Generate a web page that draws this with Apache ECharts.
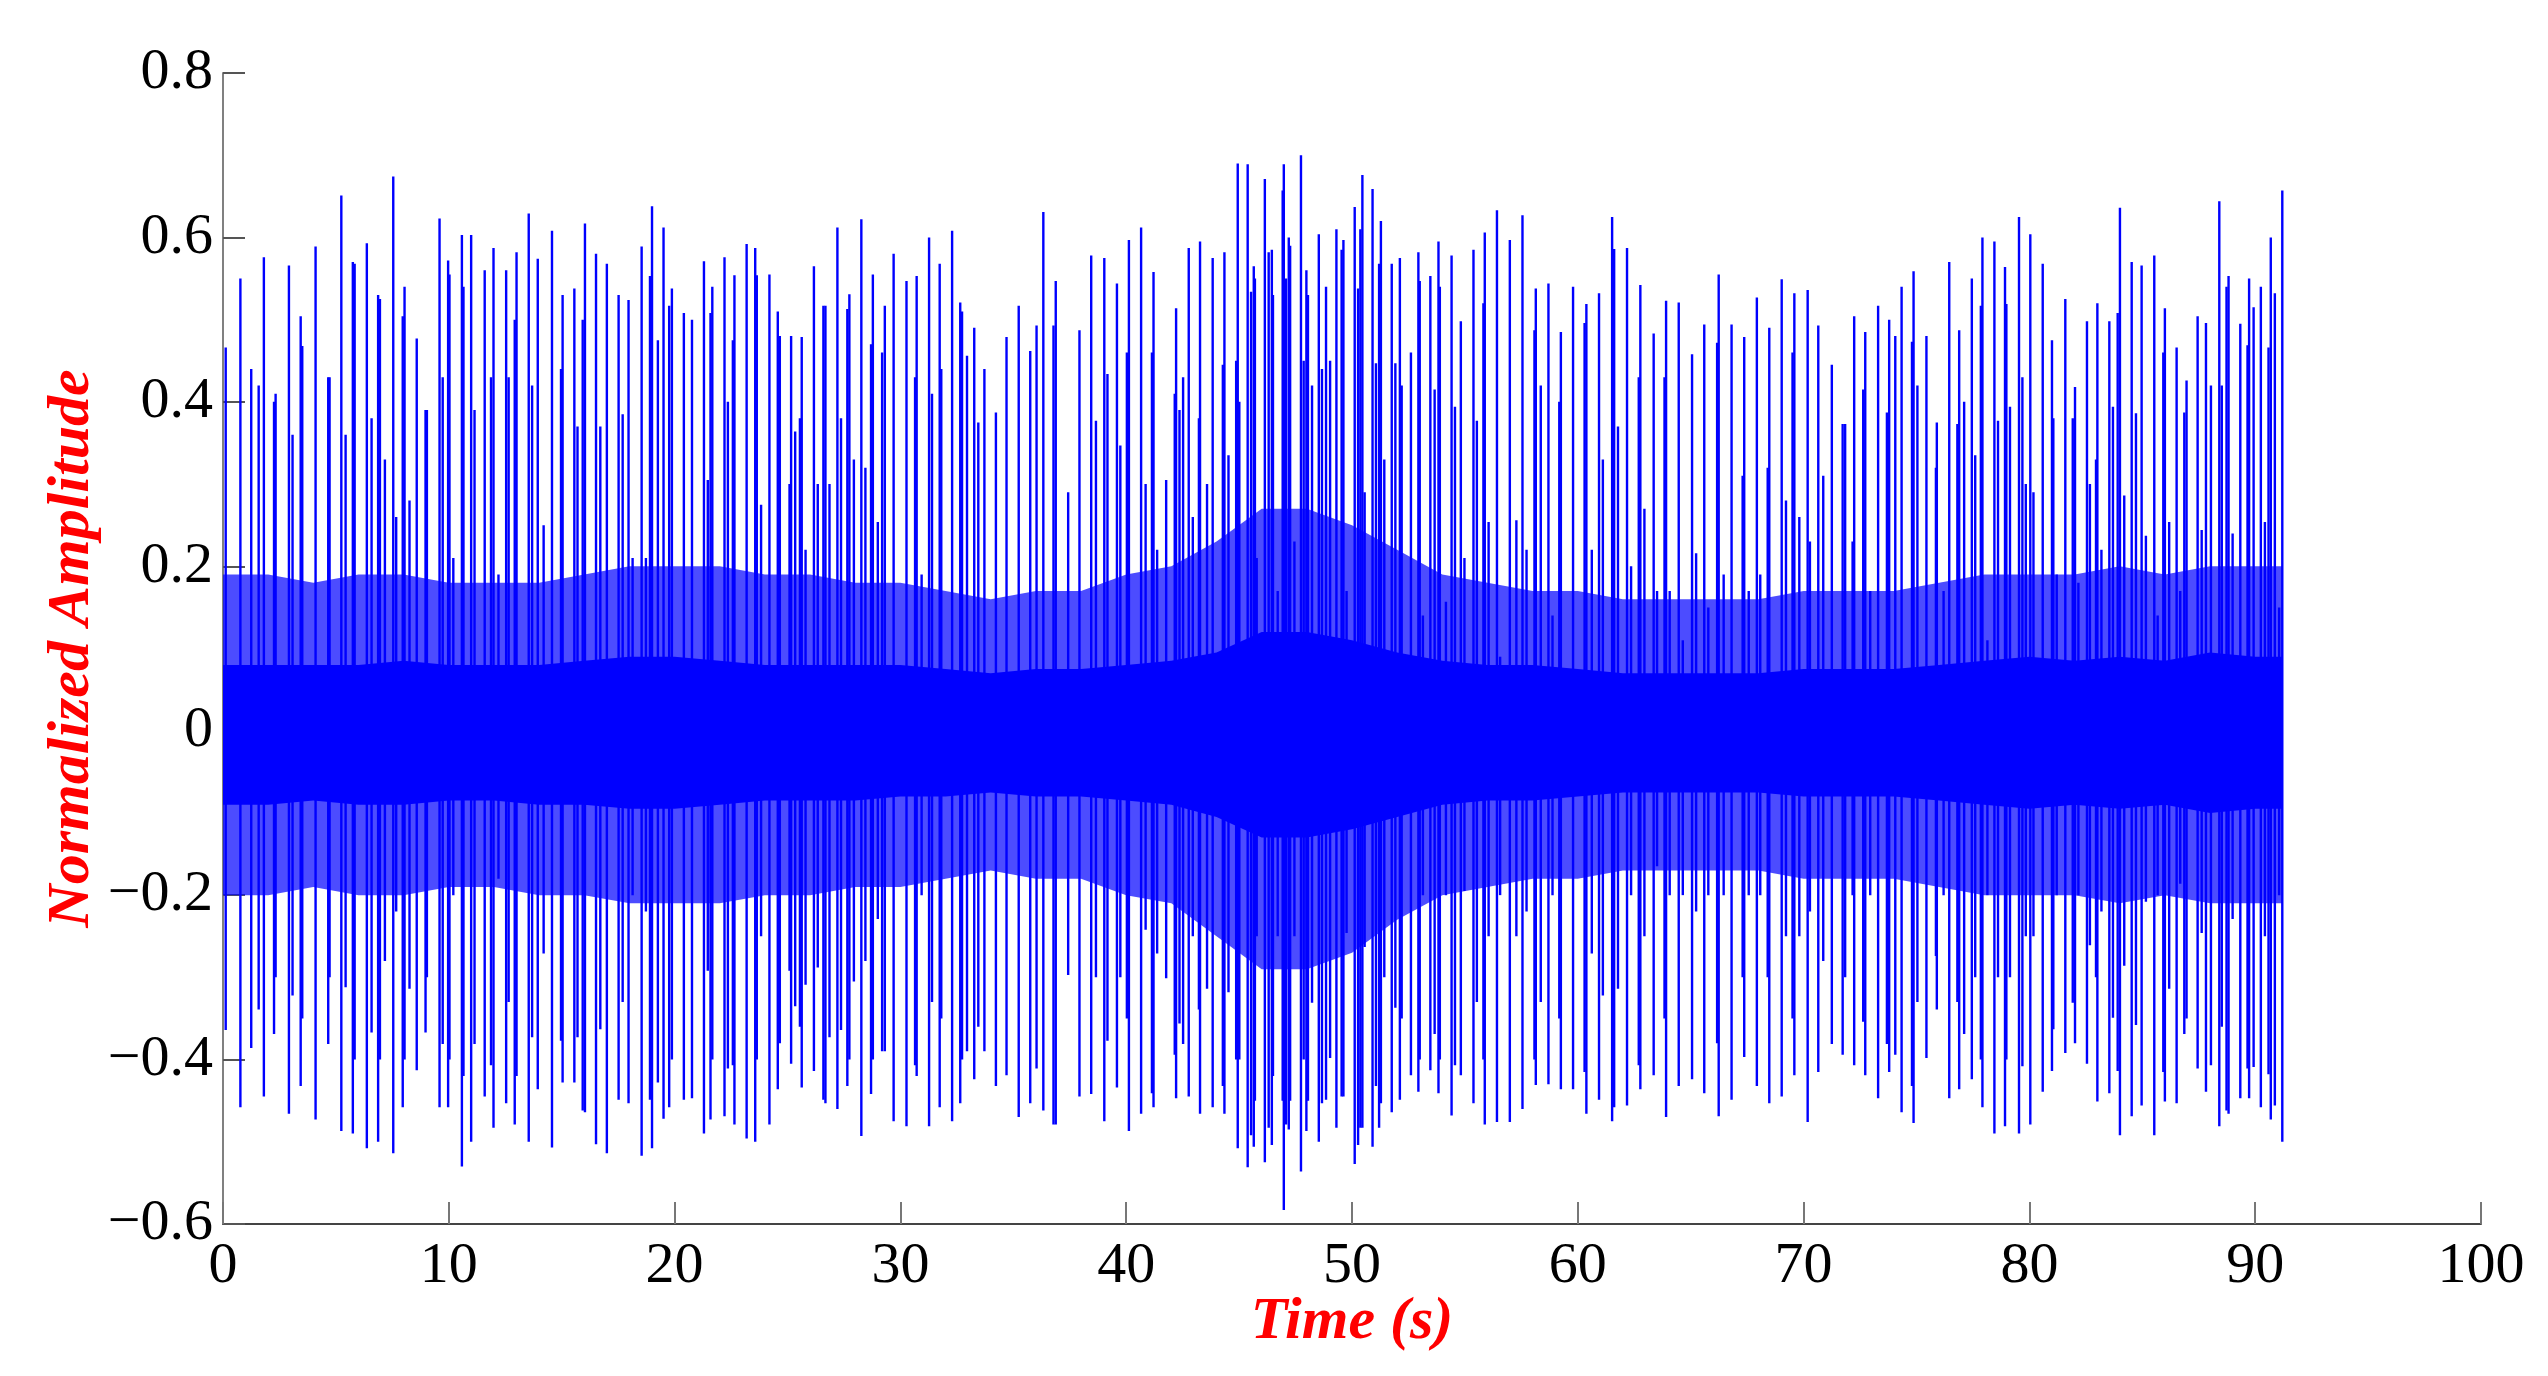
<!DOCTYPE html>
<html>
<head>
    <meta charset="UTF-8">
    <title>Normalized Amplitude vs Time</title>
    <style>
        html, body { margin: 0; padding: 0; background: #fff; }
    </style>
</head>
<body>
<div id="main" style="width: 2548px;height:1376px;"></div>
<script src="https://cdn.jsdelivr.net/npm/echarts@6/dist/echarts.min.js"></script>
<script>
    // impulses: time (s), top value, bottom value
    var spikeT = [
        0.12, 0.77, 1.25, 1.58, 1.81, 2.26, 2.33, 2.92, 3.08, 3.44, 3.51, 4.10, 4.66, 4.72, 5.24, 5.43, 5.75, 5.83,
        6.37, 6.58, 6.87, 6.95, 7.17, 7.54, 7.67, 7.96, 8.04, 8.26, 8.58, 8.97, 9.03, 9.59, 9.73, 9.97,
        10.03, 10.2, 10.58, 10.65, 10.99, 11.14, 11.59, 11.87, 11.98, 12.2, 12.54, 12.65, 12.92, 13.0, 13.54, 13.69,
        13.94, 14.2, 14.57, 14.97, 15.04, 15.56, 15.7, 15.93, 16.03, 16.52, 16.71, 17.0, 17.52, 17.7, 17.96, 18.14,
        18.54, 18.73, 18.91, 19.0, 19.26, 19.51, 19.76, 19.88,
        20.41, 20.77, 21.3, 21.47, 21.59, 21.67, 22.21, 22.36, 22.58, 22.65, 23.19, 23.57, 23.64, 23.83, 24.2,
        24.57, 24.66, 25.09, 25.16, 25.34, 25.55, 25.63, 25.8, 26.17, 26.34, 26.59, 26.68, 26.86, 27.21, 27.37,
        27.65, 27.74, 27.94, 28.27, 28.45, 28.7, 28.78, 29.0, 29.19, 29.31, 29.7, 30.27, 30.65, 30.72, 30.94,
        31.27, 31.4, 31.74, 31.81, 32.29, 32.65, 32.73, 32.95, 33.27, 33.45, 33.72, 34.23, 34.7, 35.24, 35.75,
        36.03, 36.33, 36.78, 36.88, 37.43, 37.93, 38.45, 38.66, 39.03, 39.17, 39.59, 39.74,
        40.03, 40.12, 40.66, 40.86, 41.14, 41.21, 41.37, 41.77, 42.15, 42.21, 42.36, 42.52, 42.77, 42.95, 43.22,
        43.27, 43.58, 43.83, 44.28, 44.35, 44.53, 44.87, 44.94, 45.01, 45.38, 45.53, 45.65, 45.7, 45.78, 46.14,
        46.31, 46.45, 46.5, 46.71, 46.93, 46.98, 47.08, 47.2, 47.26, 47.45, 47.74, 47.86, 47.98, 48.05, 48.23,
        48.53, 48.67, 48.85, 49.03, 49.31, 49.54, 49.62, 49.76, 50.12, 50.27, 50.37, 50.46, 50.56, 50.91, 51.06,
        51.2, 51.28, 51.43, 51.76, 51.92, 52.12, 52.2, 52.61, 52.94, 53.0, 53.14, 53.47, 53.66, 53.83, 53.89,
        54.16, 54.41, 54.56, 54.82, 54.98, 55.38, 55.53, 55.82, 55.88, 56.05, 56.42, 56.56, 56.99, 57.28, 57.55,
        57.73, 58.08, 58.14, 58.36, 58.7, 58.88, 59.18, 59.25, 59.79,
        60.3, 60.38, 60.62, 60.94, 61.11, 61.52, 61.61, 61.78, 62.18, 62.36, 62.7, 62.77, 62.95, 63.36, 63.51,
        63.84, 63.91, 64.07, 64.47, 64.65, 65.06, 65.24, 65.6, 65.78, 66.17, 66.24, 66.46, 66.81, 67.3, 67.37,
        67.57, 67.93, 68.08, 68.41, 68.48, 69.03, 69.22, 69.51, 69.59, 69.81, 70.18, 70.28, 70.65, 70.87, 71.25,
        71.73, 71.84, 72.17, 72.24, 72.64, 72.73, 72.95, 73.3, 73.69, 73.79, 74.06, 74.34, 74.8, 74.87, 75.04,
        75.44, 75.86, 75.9, 76.2, 76.45, 76.81, 76.89, 77.11, 77.45, 77.6, 77.85, 77.92, 78.14, 78.45, 78.61,
        78.92, 78.98, 79.14, 79.54, 79.69, 79.84,
        80.04, 80.18, 80.59, 81.0, 81.06, 81.21, 81.59, 81.92, 82.02, 82.17, 82.55, 82.68, 82.95, 83.01, 83.19,
        83.54, 83.7, 83.91, 84.01, 84.2, 84.53, 84.72, 84.97, 85.16, 85.53, 85.68, 85.93, 86.0, 86.19, 86.52,
        86.68, 86.86, 86.96, 87.45, 87.63, 87.82, 88.04, 88.41, 88.52, 88.73, 88.82, 89.0, 89.34, 89.66, 89.73,
        89.93, 90.25, 90.43, 90.59, 90.69, 90.87, 91.06, 91.2
    ];
    var spikeHi = [
        0.466, 0.55, 0.44, 0.42, 0.576, 0.40, 0.41, 0.566, 0.36, 0.504, 0.468, 0.589, 0.43, 0.43, 0.651, 0.36, 0.57, 0.568,
        0.593, 0.38, 0.53, 0.525, 0.33, 0.674, 0.26, 0.504, 0.54, 0.28, 0.477, 0.39, 0.39, 0.623, 0.43, 0.572,
        0.555, 0.21, 0.603, 0.54, 0.603, 0.39, 0.56, 0.43, 0.587, 0.19, 0.56, 0.43, 0.5, 0.582, 0.629, 0.42,
        0.574, 0.25, 0.608, 0.44, 0.53, 0.538, 0.37, 0.5, 0.617, 0.58, 0.37, 0.568, 0.53, 0.385, 0.524, 0.21,
        0.589, 0.21, 0.553, 0.638, 0.475, 0.612, 0.517, 0.538,
        0.508, 0.50, 0.571, 0.305, 0.508, 0.54, 0.576, 0.40, 0.475, 0.554, 0.592, 0.587, 0.554, 0.275, 0.555,
        0.51, 0.48, 0.30, 0.48, 0.364, 0.38, 0.479, 0.22, 0.565, 0.30, 0.517, 0.517, 0.30, 0.612, 0.38,
        0.513, 0.531, 0.33, 0.622, 0.32, 0.47, 0.555, 0.254, 0.46, 0.517, 0.58, 0.547, 0.43, 0.553, 0.19,
        0.60, 0.41, 0.568, 0.44, 0.608, 0.521, 0.51, 0.456, 0.49, 0.375, 0.44, 0.387, 0.479, 0.517, 0.462,
        0.493, 0.631, 0.493, 0.547, 0.29, 0.487, 0.578, 0.377, 0.575, 0.434, 0.544, 0.347,
        0.46, 0.597, 0.612, 0.30, 0.46, 0.558, 0.22, 0.305, 0.41, 0.514, 0.39, 0.43, 0.587, 0.26, 0.38,
        0.595, 0.30, 0.575, 0.445, 0.582, 0.335, 0.45, 0.69, 0.40, 0.689, 0.534, 0.565, 0.55, 0.21, 0.671,
        0.582, 0.585, 0.53, 0.17, 0.657, 0.689, 0.55, 0.60, 0.59, 0.23, 0.70, 0.45, 0.56, 0.53, 0.42,
        0.604, 0.44, 0.54, 0.45, 0.61, 0.585, 0.597, 0.17, 0.637, 0.538, 0.61, 0.676, 0.29, 0.659, 0.447,
        0.568, 0.62, 0.33, 0.568, 0.447, 0.575, 0.42, 0.46, 0.582, 0.547, 0.14, 0.553, 0.415, 0.595, 0.54,
        0.157, 0.578, 0.394, 0.498, 0.21, 0.585, 0.377, 0.52, 0.606, 0.254, 0.633, 0.09, 0.597, 0.256, 0.627,
        0.22, 0.487, 0.538, 0.42, 0.544, 0.14, 0.40, 0.485, 0.54,
        0.496, 0.519, 0.22, 0.532, 0.33, 0.625, 0.586, 0.37, 0.587, 0.2, 0.43, 0.542, 0.27, 0.483, 0.17,
        0.43, 0.523, 0.17, 0.521, 0.11, 0.458, 0.216, 0.494, 0.15, 0.472, 0.555, 0.19, 0.494, 0.31, 0.479,
        0.17, 0.527, 0.19, 0.32, 0.49, 0.549, 0.28, 0.46, 0.532, 0.26, 0.536, 0.23, 0.493, 0.31, 0.445,
        0.373, 0.373, 0.23, 0.504, 0.415, 0.485, 0.17, 0.517, 0.387, 0.50, 0.48, 0.54, 0.473, 0.559, 0.42,
        0.48, 0.32, 0.375, 0.17, 0.57, 0.373, 0.487, 0.40, 0.55, 0.335, 0.517, 0.60, 0.11, 0.595, 0.377,
        0.564, 0.519, 0.394, 0.625, 0.43, 0.30,
        0.604, 0.29, 0.568, 0.475, 0.38, 0.19, 0.525, 0.38, 0.418, 0.18, 0.498, 0.30, 0.33, 0.52, 0.22,
        0.498, 0.394, 0.508, 0.636, 0.286, 0.57, 0.386, 0.566, 0.237, 0.578, 0.14, 0.46, 0.514, 0.254, 0.466,
        0.17, 0.387, 0.426, 0.504, 0.244, 0.496, 0.42, 0.644, 0.42, 0.54, 0.553, 0.24, 0.495, 0.469, 0.55,
        0.515, 0.54, 0.254, 0.466, 0.60, 0.532, 0.15, 0.657
    ];
    var spikeLo = [
        -0.364, -0.458, -0.386, -0.339, -0.445, -0.369, -0.30, -0.466, -0.322, -0.432, -0.35, -0.473, -0.381, -0.30, -0.487, -0.312, -0.49, -0.40,
        -0.508, -0.367, -0.5, -0.40, -0.28, -0.514, -0.22, -0.458, -0.40, -0.314, -0.413, -0.367, -0.30, -0.458, -0.381, -0.458,
        -0.40, -0.20, -0.53, -0.42, -0.5, -0.381, -0.445, -0.407, -0.483, -0.18, -0.453, -0.33, -0.479, -0.42, -0.5, -0.373,
        -0.436, -0.271, -0.507, -0.377, -0.428, -0.428, -0.373, -0.462, -0.464, -0.503, -0.363, -0.514, -0.449, -0.33, -0.453, -0.2,
        -0.517, -0.22, -0.449, -0.508, -0.428, -0.472, -0.458, -0.40,
        -0.449, -0.447, -0.49, -0.292, -0.473, -0.40, -0.469, -0.411, -0.407, -0.479, -0.496, -0.5, -0.40, -0.25, -0.479,
        -0.436, -0.38, -0.292, -0.405, -0.335, -0.36, -0.434, -0.309, -0.414, -0.288, -0.449, -0.453, -0.373, -0.46, -0.364,
        -0.432, -0.40, -0.305, -0.493, -0.28, -0.442, -0.40, -0.229, -0.39, -0.39, -0.475, -0.481, -0.407, -0.42, -0.2,
        -0.481, -0.33, -0.458, -0.35, -0.475, -0.453, -0.40, -0.39, -0.424, -0.36, -0.39, -0.432, -0.419, -0.47, -0.453,
        -0.411, -0.462, -0.479, -0.479, -0.297, -0.445, -0.442, -0.30, -0.475, -0.377, -0.434, -0.30,
        -0.35, -0.487, -0.466, -0.242, -0.441, -0.458, -0.271, -0.301, -0.394, -0.447, -0.356, -0.381, -0.445, -0.25, -0.339,
        -0.466, -0.314, -0.458, -0.432, -0.466, -0.318, -0.40, -0.508, -0.40, -0.531, -0.492, -0.506, -0.45, -0.25, -0.525,
        -0.483, -0.504, -0.42, -0.25, -0.45, -0.583, -0.479, -0.485, -0.45, -0.25, -0.536, -0.40, -0.487, -0.45, -0.331,
        -0.5, -0.453, -0.449, -0.398, -0.483, -0.445, -0.445, -0.246, -0.527, -0.504, -0.483, -0.483, -0.263, -0.506, -0.432,
        -0.483, -0.453, -0.30, -0.464, -0.337, -0.449, -0.35, -0.419, -0.439, -0.40, -0.2, -0.413, -0.369, -0.441, -0.40,
        -0.2, -0.468, -0.407, -0.419, -0.195, -0.453, -0.33, -0.40, -0.479, -0.25, -0.476, -0.2, -0.476, -0.25, -0.46,
        -0.22, -0.40, -0.431, -0.33, -0.43, -0.2, -0.35, -0.436, -0.436,
        -0.415, -0.466, -0.271, -0.449, -0.322, -0.475, -0.458, -0.314, -0.456, -0.2, -0.407, -0.436, -0.25, -0.419, -0.165,
        -0.35, -0.47, -0.2, -0.432, -0.2, -0.424, -0.22, -0.441, -0.2, -0.38, -0.469, -0.2, -0.449, -0.3, -0.397,
        -0.2, -0.432, -0.2, -0.3, -0.453, -0.445, -0.25, -0.35, -0.419, -0.25, -0.476, -0.22, -0.415, -0.28, -0.381,
        -0.394, -0.3, -0.2, -0.407, -0.354, -0.419, -0.2, -0.447, -0.381, -0.415, -0.394, -0.464, -0.432, -0.477, -0.33,
        -0.398, -0.274, -0.339, -0.2, -0.447, -0.33, -0.436, -0.369, -0.424, -0.3, -0.40, -0.458, -0.2, -0.49, -0.3,
        -0.481, -0.4, -0.3, -0.49, -0.408, -0.25,
        -0.479, -0.25, -0.439, -0.414, -0.363, -0.2, -0.392, -0.331, -0.38, -0.2, -0.405, -0.261, -0.3, -0.451, -0.22,
        -0.441, -0.349, -0.414, -0.492, -0.286, -0.469, -0.358, -0.456, -0.208, -0.492, -0.2, -0.415, -0.451, -0.314, -0.453,
        -0.186, -0.369, -0.35, -0.411, -0.246, -0.439, -0.407, -0.481, -0.36, -0.462, -0.466, -0.229, -0.447, -0.411, -0.447,
        -0.409, -0.458, -0.25, -0.418, -0.473, -0.456, -0.2, -0.5
    ];

    // dense core of the signal: inner (solid) and outer (fuzzy) envelopes
    var bandT = [0, 2, 4, 6, 8, 10, 12, 14, 16, 18, 20, 22, 24, 26, 28, 30, 32, 34, 36, 38, 40, 42, 44, 46,
        48, 50, 52, 54, 56, 58, 60, 62, 64, 66, 68, 70, 72, 74, 76, 78, 80, 82, 84, 86, 88, 90, 91.2];
    var coreHi = [0.08, 0.08, 0.08, 0.08, 0.085, 0.08, 0.08, 0.08, 0.085, 0.09, 0.09, 0.085, 0.08, 0.08, 0.08, 0.08,
        0.075, 0.07, 0.075, 0.075, 0.08, 0.085, 0.095, 0.12, 0.12, 0.11, 0.095, 0.085, 0.08, 0.08, 0.075, 0.07,
        0.07, 0.07, 0.07, 0.075, 0.075, 0.075, 0.08, 0.085, 0.09, 0.085, 0.09, 0.085, 0.095, 0.09, 0.09];
    var coreLo = [-0.09, -0.09, -0.085, -0.09, -0.09, -0.085, -0.085, -0.09, -0.09, -0.095, -0.095, -0.09, -0.085, -0.085, -0.085, -0.08,
        -0.08, -0.075, -0.08, -0.08, -0.085, -0.09, -0.105, -0.13, -0.13, -0.12, -0.105, -0.09, -0.085, -0.085, -0.08, -0.075,
        -0.075, -0.075, -0.075, -0.08, -0.08, -0.08, -0.085, -0.09, -0.095, -0.09, -0.095, -0.09, -0.10, -0.095, -0.095];
    var fuzzHi = [0.19, 0.19, 0.18, 0.19, 0.19, 0.18, 0.18, 0.18, 0.19, 0.2, 0.2, 0.2, 0.19, 0.19, 0.18, 0.18,
        0.17, 0.16, 0.17, 0.17, 0.19, 0.2, 0.23, 0.27, 0.27, 0.25, 0.22, 0.19, 0.18, 0.17, 0.17, 0.16,
        0.16, 0.16, 0.16, 0.17, 0.17, 0.17, 0.18, 0.19, 0.19, 0.19, 0.2, 0.19, 0.2, 0.2, 0.2];
    var fuzzLo = [-0.2, -0.2, -0.19, -0.2, -0.2, -0.19, -0.19, -0.2, -0.2, -0.21, -0.21, -0.21, -0.2, -0.2, -0.19, -0.19,
        -0.18, -0.17, -0.18, -0.18, -0.2, -0.21, -0.25, -0.29, -0.29, -0.27, -0.23, -0.2, -0.19, -0.18, -0.18, -0.17,
        -0.17, -0.17, -0.17, -0.18, -0.18, -0.18, -0.19, -0.2, -0.2, -0.2, -0.21, -0.2, -0.21, -0.21, -0.21];

    var xMin = 0, xMax = 100, xStep = 10;
    var yMin = -0.6, yMax = 0.8, yStep = 0.2;

    var blue = '#0000ff';
    var serif = '"Liberation Serif", "Times New Roman", serif';

    function bandItem(hi, lo, fill, opacity) {
        return function (params, api) {
            var pts = [];
            for (var i = 0; i < bandT.length; i++) pts.push(api.coord([bandT[i], hi[i]]));
            for (var j = bandT.length - 1; j >= 0; j--) pts.push(api.coord([bandT[j], lo[j]]));
            return {
                type: 'polygon',
                shape: {points: pts},
                style: {fill: fill, opacity: opacity}
            };
        };
    }

    var spikeData = [];
    for (var i = 0; i < spikeT.length; i++) {
        spikeData.push([spikeT[i], spikeHi[i], spikeLo[i]]);
    }

    var myChart = echarts.init(document.getElementById('main'));
    var option = {
        backgroundColor: '#fff',
        animation: false,
        grid: {left: 223, right: 67, top: 73, bottom: 152},
        xAxis: {
            type: 'value',
            min: xMin, max: xMax, interval: xStep,
            name: 'Time (s)',
            nameLocation: 'middle',
            nameGap: 68,
            nameMoveOverlap: false,
            nameTextStyle: {color: '#ff0000', fontFamily: serif, fontSize: 60, fontWeight: 'bold', fontStyle: 'italic'},
            axisLine: {onZero: false, lineStyle: {color: '#444', width: 2}},
            axisTick: {inside: true, length: 22, lineStyle: {color: '#777', width: 2}},
            axisLabel: {color: '#000', fontFamily: serif, fontSize: 58, margin: 14},
            splitLine: {show: false}
        },
        yAxis: {
            type: 'value',
            min: yMin, max: yMax, interval: yStep,
            name: 'Normalized Amplitude',
            nameLocation: 'middle',
            nameGap: 121,
            nameMoveOverlap: false,
            nameTextStyle: {color: '#ff0000', fontFamily: serif, fontSize: 60, fontWeight: 'bold', fontStyle: 'italic'},
            axisLine: {show: true, lineStyle: {color: '#808080', width: 2}},
            axisTick: {show: true, inside: true, length: 22, lineStyle: {color: '#555', width: 2}},
            axisLabel: {
                color: '#000', fontFamily: serif, fontSize: 58, margin: 10,
                formatter: function (v) {
                    var r = Math.round(v * 10) / 10;
                    if (r === 0) return '0';
                    return r < 0 ? '\u2212' + Math.abs(r).toFixed(1) : r.toFixed(1);
                }
            },
            splitLine: {show: false}
        },
        series: [
            {
                type: 'custom',
                renderItem: bandItem(fuzzHi, fuzzLo, blue, 0.7),
                data: [[0, 0]],
                silent: true
            },
            {
                type: 'custom',
                renderItem: bandItem(coreHi, coreLo, blue, 1),
                data: [[0, 0]],
                silent: true
            },
            {
                type: 'custom',
                renderItem: function (params, api) {
                    var a = api.coord([api.value(0), api.value(1)]);
                    var b = api.coord([api.value(0), api.value(2)]);
                    return {
                        type: 'line',
                        shape: {x1: a[0], y1: a[1], x2: b[0], y2: b[1]},
                        style: {stroke: blue, lineWidth: 2.4}
                    };
                },
                encode: {x: 0, y: [1, 2]},
                data: spikeData,
                silent: true
            }
        ]
    };
    myChart.setOption(option);
</script>
</body>
</html>
